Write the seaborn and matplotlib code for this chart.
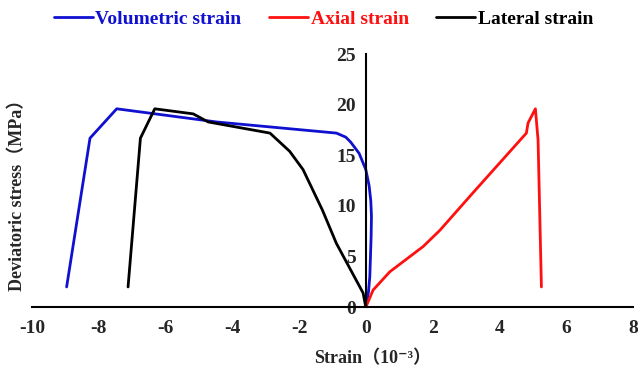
import matplotlib
matplotlib.use("Agg")
import matplotlib.pyplot as plt
import seaborn as sns
import pandas as pd

sns.set_theme(style="white")
plt.rcParams['font.family'] = ['Liberation Serif', 'Noto Sans CJK SC', 'DejaVu Sans']
plt.rcParams['axes.unicode_minus'] = False

# Volumetric strain (blue)
vol_x = [-8.96, -8.26, -7.46, -4.47, -0.88, -0.6, -0.45, -0.2, 0.0, 0.1, 0.15, 0.17, 0.16, 0.14, 0.12, 0.08, 0.0]
vol_y = [2.0, 16.7, 19.6, 18.3, 17.2, 16.8, 16.3, 15.2, 13.6, 12.0, 10.5, 9.0, 7.0, 5.0, 3.0, 1.5, 0.0]
# Axial strain (red)
ax_x = [0.0, 0.22, 0.72, 1.72, 2.22, 3.21, 4.81, 4.86, 5.08, 5.16, 5.26]
ax_y = [0.0, 1.7, 3.5, 6.0, 7.6, 11.3, 17.2, 18.2, 19.6, 16.5, 2.0]
# Lateral strain (black)
lat_x = [-7.12, -6.75, -6.32, -5.17, -4.72, -2.87, -2.28, -1.88, -1.3, -0.88, -0.08, 0.0]
lat_y = [2.0, 16.7, 19.6, 19.1, 18.3, 17.2, 15.4, 13.6, 9.6, 6.3, 1.4, 0.0]

labels = ["Volumetric strain", "Axial strain", "Lateral strain"]
colors = ["#1010d0", "#ff1010", "#000000"]
xticks = [-10, -8, -6, -4, -2, 0, 2, 4, 6, 8]
yticks = [0, 5, 10, 15, 20, 25]

fig = plt.figure(figsize=(6.38, 3.76), dpi=100)
ax = fig.add_axes([0.05, 0.183, 0.942, 0.673])

for xs, ys, lab, c in zip([vol_x, ax_x, lat_x], [vol_y, ax_y, lat_y], labels, colors):
    df = pd.DataFrame({"x": xs, "y": ys})
    sns.lineplot(data=df, x="x", y="y", sort=False, estimator=None, color=c, lw=2, label=lab, ax=ax)

ax.set_xlim(-10, 8)
ax.set_ylim(0, 25)
ax.spines['left'].set_position(('data', 0))
ax.spines['top'].set_visible(False)
ax.spines['right'].set_visible(False)
for s in ['left', 'bottom']:
    ax.spines[s].set_color('black')
    ax.spines[s].set_linewidth(1.5)

ax.set_xticks(xticks)
ax.set_xticklabels([str(t) for t in xticks])
ax.set_yticks(yticks)
ax.set_yticklabels([str(t) for t in yticks])
ax.tick_params(axis='x', direction='in', length=6, width=1.5, labelsize=14, pad=9, color='black')
ax.tick_params(axis='y', direction='inout', length=10, width=1.5, labelsize=14, pad=2, color='black')
for t in ax.get_xticklabels() + ax.get_yticklabels():
    t.set_fontweight('bold')

ax.set_xlabel("Strain（10⁻³）", fontsize=13, fontweight='bold')
ax.xaxis.set_label_coords(0.566, -0.17)
ax.set_ylabel("Deviatoric stress（MPa）", fontsize=13, fontweight='bold')
ax.yaxis.set_label_coords(-0.01, 0.46)

leg = ax.legend(loc='center', bbox_to_anchor=(0.485, 1.14), ncol=3, frameon=False,
                handlelength=2.0, handletextpad=0.15, columnspacing=1.4,
                prop={'weight': 'bold', 'size': 14})
for txt, c in zip(leg.get_texts(), colors):
    txt.set_color(c)

fig.savefig("out.png", dpi=100)
